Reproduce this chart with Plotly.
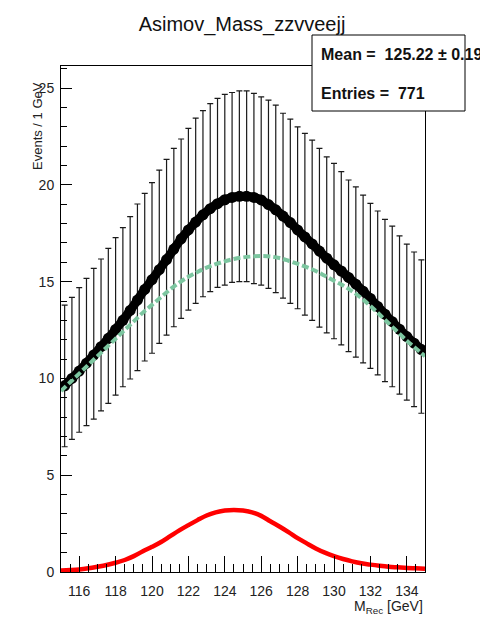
import plotly.graph_objects as go

# ---------------- data ----------------
bin_x = [115.2 + 0.4 * k for k in range(50)]
data_y = [9.62, 10.0, 10.38, 10.79, 11.21, 11.64, 12.07, 12.53, 13.0, 13.51,
          14.05, 14.6, 15.1, 15.62, 16.14, 16.68, 17.21, 17.67, 18.08, 18.45,
          18.77, 19.03, 19.23, 19.35, 19.41, 19.41, 19.35, 19.22, 18.98, 18.71,
          18.39, 18.05, 17.67, 17.31, 16.95, 16.58, 16.21, 15.87, 15.55, 15.22,
          14.87, 14.51, 14.13, 13.72, 13.32, 12.93, 12.54, 12.16, 11.82, 11.49]
bar_hi = [13.79, 14.19, 14.69, 15.17, 15.69, 16.17, 16.72, 17.27, 17.79, 18.36,
          19.01, 19.56, 20.11, 20.76, 21.32, 21.88, 22.37, 22.92, 23.45, 23.83,
          24.2, 24.47, 24.67, 24.77, 24.86, 24.86, 24.73, 24.55, 24.38, 24.12,
          23.7, 23.4, 23.0, 22.66, 22.31, 21.88, 21.45, 21.11, 20.68, 20.25,
          19.9, 19.47, 19.04, 18.65, 18.22, 17.87, 17.36, 16.94, 16.53, 16.12]
bar_lo = [6.47, 6.85, 7.22, 7.56, 7.9, 8.32, 8.71, 9.14, 9.57, 9.97,
          10.4, 10.9, 11.3, 11.81, 12.24, 12.67, 13.1, 13.53, 13.88, 14.22,
          14.48, 14.7, 14.82, 14.96, 15.0, 15.0, 14.9, 14.82, 14.65, 14.43,
          14.15, 13.88, 13.6, 13.27, 13.0, 12.65, 12.35, 12.05, 11.73, 11.38,
          11.1, 10.8, 10.52, 10.18, 9.83, 9.57, 9.19, 8.88, 8.54, 8.2]

curve_x = [115 + 0.5 * i for i in range(41)]
bkg_y = [9.35, 9.8, 10.25, 10.7, 11.15, 11.6, 12.05, 12.5, 12.95, 13.4,
         13.8, 14.2, 14.6, 14.95, 15.25, 15.5, 15.72, 15.9, 16.05, 16.17,
         16.25, 16.3, 16.32, 16.3, 16.22, 16.08, 15.92, 15.75, 15.55, 15.3,
         15.05, 14.8, 14.5, 14.15, 13.75, 13.3, 12.85, 12.4, 11.95, 11.55, 11.15]
sig_y = [0.08, 0.1, 0.13, 0.19, 0.27, 0.36, 0.48, 0.62, 0.82, 1.07,
         1.3, 1.55, 1.85, 2.15, 2.42, 2.68, 2.92, 3.08, 3.18, 3.2,
         3.18, 3.08, 2.9, 2.62, 2.35, 2.06, 1.75, 1.48, 1.22, 1.0,
         0.82, 0.67, 0.55, 0.45, 0.38, 0.32, 0.27, 0.24, 0.21, 0.19, 0.17]

title_text = "Asimov_Mass_zzvveejj"
mean_text = "Mean =\u00a0 125.22 ± 0.19"
entries_text = "Entries =\u00a0 771"

# ---------------- layout geometry ----------------
W, H = 480, 620
L, R, T, B = 61, 425, 66, 572
def px(x):
    return (x - L) / (R - L)
def py(y):
    return (B - y) / (B - T)

FONT = "Liberation Sans, Arial, Helvetica, sans-serif"

err_plus = [h - v for h, v in zip(bar_hi, data_y)]
err_minus = [v - l for l, v in zip(bar_lo, data_y)]

fig = go.Figure()
fig.add_trace(go.Scatter(
    x=bin_x, y=data_y, mode="markers",
    marker=dict(size=1, color="black"),
    error_y=dict(type="data", symmetric=False, array=err_plus, arrayminus=err_minus,
                 color="#1a1a1a", thickness=1.2, width=3),
    showlegend=False, hoverinfo="skip"))
fig.add_trace(go.Scatter(
    x=bin_x, y=data_y, mode="lines+markers",
    line=dict(color="black", width=9, shape="spline"),
    marker=dict(size=11, color="black", symbol="circle"),
    showlegend=False, hoverinfo="skip"))
fig.add_trace(go.Scatter(
    x=curve_x, y=bkg_y, mode="lines",
    line=dict(color="#7cc6a0", width=4, dash="7px,3px", shape="spline"),
    showlegend=False, hoverinfo="skip"))
fig.add_trace(go.Scatter(
    x=curve_x, y=sig_y, mode="lines",
    line=dict(color="#ff0000", width=4.5, shape="spline"),
    showlegend=False, hoverinfo="skip"))

axis_common = dict(showgrid=False, zeroline=False, showline=True, linecolor="black",
                   linewidth=1, mirror=True, ticks="inside", tickcolor="black",
                   tickwidth=1, tickfont=dict(family=FONT, size=14, color="#222"))

fig.update_xaxes(range=[115, 135], dtick=2, tick0=0, ticklen=16,
                 ticklabelstandoff=6,
                 minor=dict(dtick=0.5, ticklen=8, ticks="inside", tickcolor="black", tickwidth=1),
                 **axis_common)
fig.update_yaxes(range=[0, 26.14], dtick=5, tick0=0, ticklen=11,
                 ticklabelstandoff=3,
                 minor=dict(dtick=1, ticklen=6, ticks="inside", tickcolor="black", tickwidth=1),
                 **axis_common)

fig.update_layout(
    width=W, height=H,
    margin=dict(l=L, r=W - R, t=T, b=H - B, pad=0),
    paper_bgcolor="white", plot_bgcolor="white",
    title=dict(text=title_text, x=242 / W, xanchor="center", y=1 - 24 / H, yanchor="middle",
               font=dict(family=FONT, size=20, color="#111")),
    shapes=[dict(type="rect", xref="paper", yref="paper",
                 x0=px(312), x1=px(465), y0=py(111), y1=py(35),
                 fillcolor="white", line=dict(color="black", width=1), layer="above")],
    annotations=[
        dict(text="<b>" + mean_text + "</b>", xref="paper", yref="paper",
             x=px(319), y=py(55), xanchor="left", yanchor="middle", showarrow=False,
             font=dict(family=FONT, size=16, color="#111")),
        dict(text="<b>" + entries_text + "</b>", xref="paper", yref="paper",
             x=px(319), y=py(93), xanchor="left", yanchor="middle", showarrow=False,
             font=dict(family=FONT, size=16, color="#111")),
        dict(text="Events / 1 GeV", xref="paper", yref="paper", textangle=-90,
             x=px(37), y=py(126), xanchor="center", yanchor="middle", showarrow=False,
             font=dict(family=FONT, size=13, color="#222")),
        dict(text="M<sub>Rec</sub> [GeV]", xref="paper", yref="paper",
             x=1.0, y=py(607), xanchor="right", yanchor="middle", showarrow=False,
             font=dict(family=FONT, size=14, color="#222")),
    ],
)

fig.write_html("out.html")
